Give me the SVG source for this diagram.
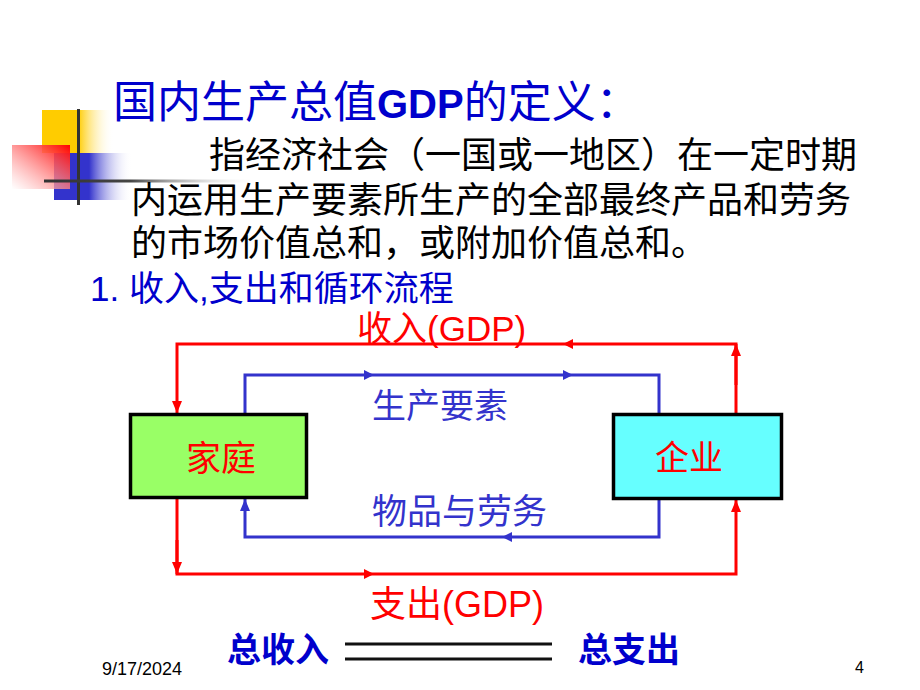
<svg xmlns="http://www.w3.org/2000/svg" width="920" height="690" viewBox="0 0 920 690">
<style>
  text { font-family: "Liberation Sans", "Noto Sans CJK SC", sans-serif; }
  .blue { fill: #0000CC; }
  .red { fill: #FF0000; }
  .dblue { fill: #3333CC; }
  .body { fill: #000000; font-size: 36px; }
  .lbl { font-size: 34px; }
  .rl { fill: none; stroke: #FF0000; stroke-width: 3; }
  .bl { fill: none; stroke: #3333CC; stroke-width: 3; }
  .box { stroke: #000000; stroke-width: 3.5; }
</style>
<defs>
  <linearGradient id="gY" x1="0" y1="0" x2="1" y2="0">
    <stop offset="0" stop-color="#FFCC00"/>
    <stop offset="0.5" stop-color="#FFCC00"/>
    <stop offset="1" stop-color="#FFFFFF" stop-opacity="0"/>
  </linearGradient>
  <linearGradient id="gB" x1="0" y1="0" x2="1" y2="0">
    <stop offset="0" stop-color="#3333CC"/>
    <stop offset="0.45" stop-color="#3333CC"/>
    <stop offset="1" stop-color="#FFFFFF" stop-opacity="0"/>
  </linearGradient>
  <linearGradient id="gR" x1="1" y1="0" x2="0" y2="1">
    <stop offset="0" stop-color="#FF0000"/>
    <stop offset="1" stop-color="#FFFFFF" stop-opacity="0.6"/>
  </linearGradient>
  <linearGradient id="gL" x1="0" y1="0" x2="1" y2="0">
    <stop offset="0" stop-color="#333333"/>
    <stop offset="0.4" stop-color="#444444"/>
    <stop offset="1" stop-color="#FFFFFF" stop-opacity="0"/>
  </linearGradient>
  <marker id="ar" viewBox="0 0 12 10" refX="12" refY="5" markerUnits="userSpaceOnUse" markerWidth="12" markerHeight="10" orient="auto">
    <path d="M0,0 L12,5 L0,10 z" fill="#FF0000"/>
  </marker>
  <marker id="ab" viewBox="0 0 12 10" refX="12" refY="5" markerUnits="userSpaceOnUse" markerWidth="12" markerHeight="10" orient="auto">
    <path d="M0,0 L12,5 L0,10 z" fill="#3333CC"/>
  </marker>
</defs>

<g id="decoration">
  <rect x="42" y="110" width="72" height="43" fill="url(#gY)"/>
  <rect x="54" y="153" width="78" height="47" fill="url(#gB)"/>
  <rect x="12" y="145" width="58" height="44" fill="url(#gR)"/>
  <rect x="77" y="109" width="3" height="96" fill="#333333"/>
  <rect x="44" y="179.5" width="216" height="3" fill="url(#gL)"/>
</g>

<g id="title">
  <text x="113" y="118" class="blue" font-size="44">国内生产总值<tspan font-weight="bold" font-size="40">GDP</tspan>的定义：</text>
</g>

<g id="definition">
  <text x="209" y="168" class="body">指经济社会（一国或一地区）在一定时期</text>
  <text x="131" y="213" class="body">内运用生产要素所生产的全部最终产品和劳务</text>
  <text x="131" y="256" class="body">的市场价值总和，或附加价值总和。</text>
</g>

<g id="subtitle">
  <text x="90" y="301" class="blue" font-size="35">1. 收入,支出和循环流程</text>
</g>

<g id="connectors">
  <path class="rl" d="M736,413 V344 H177 V413" marker-end="url(#ar)"/>
  <path class="rl" d="M736,385 V344" marker-end="url(#ar)"/>
  <polygon points="563,344 573,339 573,349" fill="#FF0000"/>
  <path class="bl" d="M245,413 V375 H659 V413"/>
  <polygon points="374,375 364,370 364,380" fill="#3333CC"/>
  <polygon points="573,375 563,370 563,380" fill="#3333CC"/>
  <path class="bl" d="M659,499 V537 H245 V499" marker-end="url(#ab)"/>
  <polygon points="502,537 512,532 512,542" fill="#3333CC"/>
  <path class="rl" d="M177,499 V574 H736 V500" marker-end="url(#ar)"/>
  <path class="rl" d="M177,540 V574" marker-end="url(#ar)"/>
  <polygon points="374,574 364,569 364,579" fill="#FF0000"/>
</g>

<g id="node-household">
  <rect class="box" x="130.5" y="414.5" width="176" height="83" fill="#99FF66"/>
  <text x="221" y="471" class="red" font-size="35" text-anchor="middle">家庭</text>
</g>

<g id="node-firm">
  <rect class="box" x="613.5" y="414.5" width="168" height="84" fill="#66FFFF"/>
  <text x="689" y="470" class="red" font-size="34" text-anchor="middle">企业</text>
</g>

<g id="labels">
  <text x="357" y="341" class="red" font-size="35">收入(GDP)</text>
  <text x="372" y="418" class="dblue lbl">生产要素</text>
  <text x="372" y="524" class="dblue" font-size="35">物品与劳务</text>
  <text x="370" y="617" class="red" font-size="36">支出(GDP)</text>
</g>

<g id="equation">
  <text x="227" y="662" class="blue" font-size="34" font-weight="bold">总收入</text>
  <line x1="345" y1="644" x2="552" y2="644" stroke="#111111" stroke-width="3"/>
  <line x1="345" y1="659" x2="552" y2="659" stroke="#111111" stroke-width="3"/>
  <text x="578" y="662" class="blue" font-size="34" font-weight="bold">总支出</text>
</g>

<g id="footer">
  <text x="102" y="675" font-size="18" fill="#000000">9/17/2024</text>
  <text x="855" y="673" font-size="16" fill="#000000">4</text>
</g>
</svg>
